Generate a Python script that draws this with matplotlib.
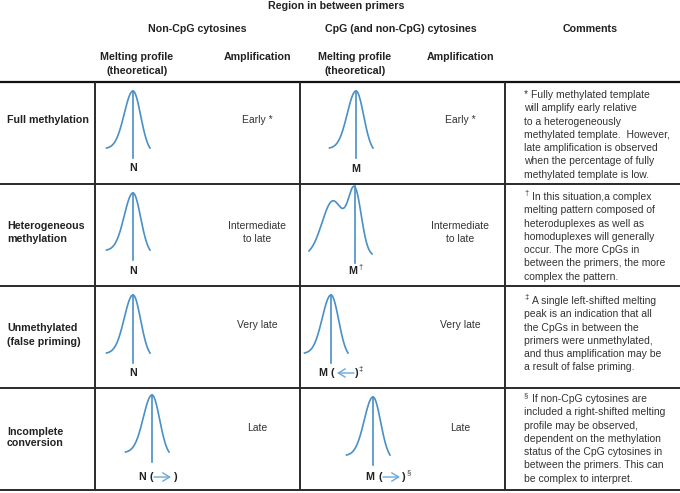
import numpy as np
import matplotlib
matplotlib.use("Agg")
import matplotlib.pyplot as plt

plt.rcParams['font.family'] = ['Liberation Sans', 'DejaVu Sans']

BLUE = '#4a8fc6'
ARROW = '#6aa8d8'
TXT = '#222222'
LINE = '#2a2a2a'

# table content
row_labels = [["Full methylation"],
              ["Heterogeneous", "methylation"],
              ["Unmethylated", "(false priming)"],
              ["Incomplete", "conversion"]]
amp_noncpg = [["Early *"], ["Intermediate", "to late"], ["Very late"], ["Late"]]
amp_cpg = [["Early *"], ["Intermediate", "to late"], ["Very late"], ["Late"]]
comment_marks = ["", "\u2020", "\u2021", "\u00a7"]
comments = [
    ["* Fully methylated template", "will amplify early relative", "to a heterogeneously",
     "methylated template.  However,", "late amplification is observed",
     "when the percentage of fully", "methylated template is low."],
    ["In this situation,a complex", "melting pattern composed of", "heteroduplexes as well as",
     "homoduplexes will generally", "occur. The more CpGs in",
     "between the primers, the more", "complex the pattern."],
    ["A single left-shifted melting", "peak is an indication that all", "the CpGs in between the",
     "primers were unmethylated,", "and thus amplification may be", "a result of false priming."],
    ["If non-CpG cytosines are", "included a right-shifted melting", "profile may be observed,",
     "dependent on the methylation", "status of the CpG cytosines in",
     "between the primers. This can", "be complex to interpret."],
]

# melting peaks (x centre, peak y, base y) in picture units
noncpg_peaks = [(133, 91, 148), (133, 193, 250), (133, 295, 353), (152, 395, 452)]
cpg_peaks = [(356, 91, 148), None, (331, 295, 353), (373, 397, 455)]
# heterogeneous profile: two overlapping peaks (centre, height, width)
hetero_components = [(355, 61.6, 6.5), (333, 55.0, 11.0)]
hetero_base = 256

fig = plt.figure(figsize=(6.8, 4.93), dpi=100)
ax = fig.add_axes([0, 0, 1, 1])
ax.set_xlim(0, 680)
ax.set_ylim(493, 0)
ax.axis('off')

# headers
hk = dict(ha='center', va='center', fontsize=7.7, fontweight='bold', color=TXT)
ax.text(336, 6, "Region in between primers", **hk)
ax.text(197, 29, "Non-CpG cytosines", **hk)
ax.text(401, 29, "CpG (and non-CpG) cytosines", **hk)
ax.text(590, 29, "Comments", **hk)
for cx in (137, 355):
    ax.text(cx, 57, "Melting profile", **hk)
    ax.text(cx, 71, "(theoretical)", **hk)
for cx in (257, 460):
    ax.text(cx, 57, "Amplification", **hk)

# grid
row_edges = [82, 184, 286, 388, 490]
for i, y in enumerate(row_edges):
    ax.plot([0, 680], [y, y], color=LINE if i else '#111111', lw=1.6 if i == 0 else 1.4,
            solid_capstyle='butt')
for x in (95, 300, 505):
    ax.plot([x, x], [82, 490], color=LINE, lw=1.4, solid_capstyle='butt')

label_y = [[120], [226, 239], [328, 342], [432, 443]]
amp_y = [[120], [226, 239], [325], [428]]
comment_y0 = [95, 197, 301, 399]

rk = dict(ha='left', va='center', fontsize=7.7, fontweight='bold', color=TXT)
ak = dict(ha='center', va='center', fontsize=7.5, color='#333333')
for i in range(4):
    for txt, y in zip(row_labels[i], label_y[i]):
        ax.text(7, y, txt, **rk)
    for txt, y in zip(amp_noncpg[i], amp_y[i]):
        ax.text(257, y, txt, **ak)
    for txt, y in zip(amp_cpg[i], amp_y[i]):
        ax.text(460, y, txt, **ak)
    x0 = 524 if not comment_marks[i] else 532
    if comment_marks[i]:
        ax.text(524, comment_y0[i] - 3, comment_marks[i], ha='left', va='center',
                fontsize=5.5, color='#333333')
    for j, txt in enumerate(comments[i]):
        ax.text(x0 if j == 0 else 524, comment_y0[i] + j * 13.3, txt, ha='left', va='center',
                fontsize=7.5, color='#333333')


def half(s):
    t = np.linspace(0, 1, 80)
    g = np.exp(-t ** 2 / (2 * s ** 2))
    return t, (g - g[-1]) / (1 - g[-1])


def peak(cx, ytop, ybase, hl=26.5, hr=17, sl=0.33, sr=0.45):
    tl, gl = half(sl)
    tr, gr = half(sr)
    x = np.concatenate([cx - tl[::-1] * hl, cx + tr[1:] * hr])
    g = np.concatenate([gl[::-1], gr[1:]])
    ax.plot(x, ybase - g * (ybase - ytop), color=BLUE, lw=1.2)
    ax.plot([cx, cx], [ytop, ybase + 9.5], color=BLUE, lw=1.2)


for p in noncpg_peaks:
    peak(*p)
for p in cpg_peaks:
    if p:
        peak(*p)

xs = np.linspace(309, 372, 200)
h = sum(a * np.exp(-(xs - c) ** 2 / (2 * w ** 2)) for c, a, w in hetero_components)
ax.plot(xs, hetero_base - h, color=BLUE, lw=1.2)
ax.plot([355, 355], [hetero_base - h.max(), 263], color=BLUE, lw=1.2)

lk = dict(ha='center', va='center', fontsize=7.7, fontweight='bold', color=TXT)
sk = dict(ha='center', va='center', fontsize=5.5, color='#333333')
arr = dict(arrowstyle='->,head_length=0.5,head_width=0.3', color=ARROW, lw=1.0,
           shrinkA=0, shrinkB=0)
# N labels
for y in (168, 271, 373):
    ax.text(133, y, "N", **lk)
ax.text(142, 477, "N", **lk)
ax.text(151, 477, "(", **lk)
ax.annotate('', xy=(171, 477), xytext=(154, 477), arrowprops=arr)
ax.text(176, 477, ")", **lk)
# M labels
ax.text(356, 169, "M", **lk)
ax.text(353, 271, "M", **lk)
ax.text(361, 267, "\u2020", **sk)
ax.text(323, 373, "M", **lk)
ax.text(332, 373, "(", **lk)
ax.annotate('', xy=(337, 373), xytext=(354, 373), arrowprops=arr)
ax.text(357, 373, ")", **lk)
ax.text(361, 369, "\u2021", **sk)
ax.text(370, 477, "M", **lk)
ax.text(380, 477, "(", **lk)
ax.annotate('', xy=(400, 477), xytext=(383, 477), arrowprops=arr)
ax.text(404, 477, ")", **lk)
ax.text(409, 473, "\u00a7", **sk)

fig.savefig("out.png", dpi=100)
